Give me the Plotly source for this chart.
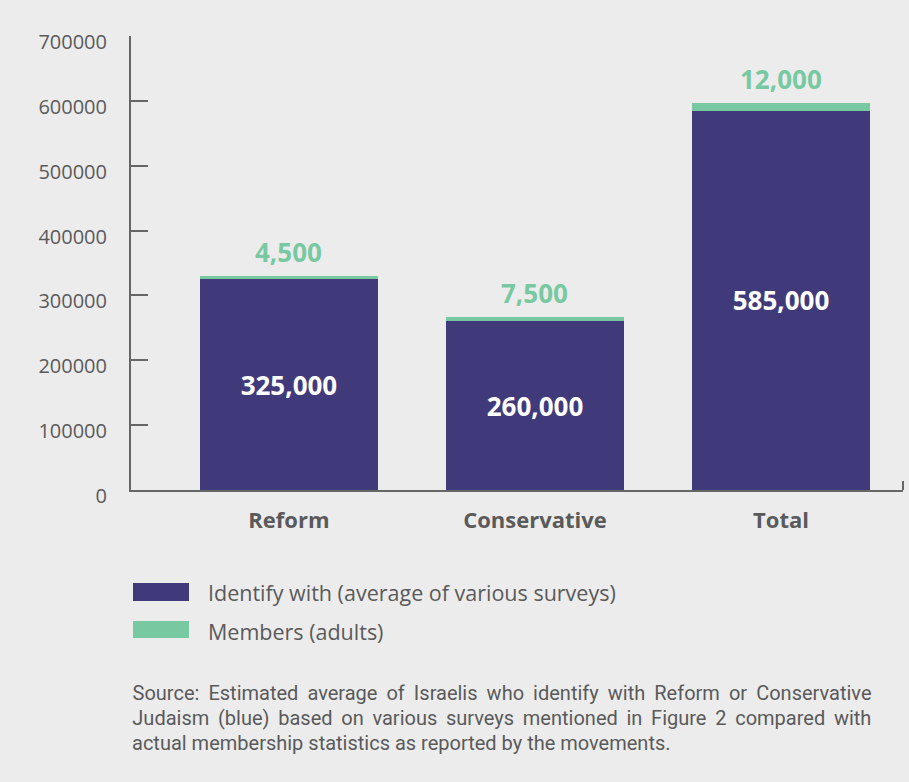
import plotly.graph_objects as go

categories = ["Reform", "Conservative", "Total"]
identify_values = [325000, 260000, 585000]
member_values = [4500, 7500, 12000]
y_tick_values = [0, 100000, 200000, 300000, 400000, 500000, 600000, 700000]
y_tick_labels = ["0", "100000", "200000", "300000", "400000", "500000", "600000", "700000"]
legend_labels = ["Identify with (average of various surveys)", "Members (adults)"]
source_lines = [
    "Source: Estimated average of Israelis who identify with Reform or Conservative",
    "Judaism (blue) based on various surveys mentioned in Figure 2 compared with",
    "actual membership statistics as reported by the movements.",
]

BG = "#ececec"
DARK = "#403a7b"
GREEN = "#78c9a2"
GRAY = "#5a5a5a"
AXIS = "#666666"

W, H = 909, 782
L, R, T, B = 131, 6, 36, 292
PW = W - L - R
PH = H - T - B

SRC_LEFT, SRC_RIGHT = 132, 871


def px_x(px):
    return (px - L) / PW


def px_y(py):
    return (H - B - py) / PH


fig = go.Figure()
fig.add_trace(go.Bar(
    x=categories, y=identify_values, name=legend_labels[0],
    marker=dict(color=DARK, line=dict(width=0)),
    text=[f"{v:,}" for v in identify_values],
    textposition="inside", insidetextanchor="middle",
    textfont=dict(family="Open Sans", size=26, color="white", weight="bold"),
    hoverinfo="skip", showlegend=False,
))
fig.add_trace(go.Bar(
    x=categories, y=member_values, name=legend_labels[1],
    marker=dict(color=GREEN, line=dict(width=0)),
    hoverinfo="skip", showlegend=False,
))

annotations = []
for c, a, b in zip(categories, identify_values, member_values):
    annotations.append(dict(
        x=c, y=a + b, xref="x", yref="y", text=f"{b:,}", showarrow=False,
        yanchor="middle", yshift=24,
        font=dict(family="Open Sans", size=26, color=GREEN, weight="bold"),
    ))

# legend
legend_rows = [(583, 601, 592.5, DARK), (621, 638, 631.5, GREEN)]
shapes = []
for (y0, y1, yc, col), lab in zip(legend_rows, legend_labels):
    shapes.append(dict(type="rect", xref="paper", yref="paper",
                       x0=px_x(133), x1=px_x(189), y0=px_y(y1), y1=px_y(y0),
                       fillcolor=col, line=dict(width=0)))
    annotations.append(dict(x=px_x(206), y=px_y(yc), xref="paper", yref="paper",
                            text=lab, showarrow=False, xanchor="left", yanchor="middle",
                            font=dict(family="Open Sans", size=21.5, color=GRAY)))

# source note: first two lines justified (centred, widened by word spacing below)
for i, line in enumerate(source_lines):
    justified = i < len(source_lines) - 1
    annotations.append(dict(
        x=px_x((SRC_LEFT + SRC_RIGHT) / 2) if justified else px_x(SRC_LEFT - 2),
        y=px_y(693 + 25 * i), xref="paper", yref="paper",
        text=line, showarrow=False,
        xanchor="center" if justified else "left", yanchor="middle",
        font=dict(family="Roboto", size=20, color=GRAY)))

# small end tick on x axis
shapes.append(dict(type="line", xref="paper", yref="paper", x0=1, x1=1,
                   y0=0, y1=px_y(481), line=dict(color=AXIS, width=2)))

fig.update_layout(
    width=W, height=H,
    margin=dict(l=L, r=R, t=T, b=B),
    paper_bgcolor=BG, plot_bgcolor=BG,
    barmode="stack", bargap=0.276,
    showlegend=False,
    annotations=annotations, shapes=shapes,
    xaxis=dict(range=[-0.642, 2.496], showline=True, linecolor=AXIS, linewidth=2,
               showgrid=False, ticks="", zeroline=False,
               tickfont=dict(family="Open Sans", size=22, color=GRAY, weight="bold"),
               ticklabelstandoff=10),
    yaxis=dict(range=[0, 700000], showline=True, linecolor=AXIS, linewidth=2,
               showgrid=False, zeroline=False,
               ticks="inside", ticklen=17, tickwidth=2, tickcolor=AXIS,
               tickvals=y_tick_values, ticktext=y_tick_labels,
               tickfont=dict(family="Open Sans", size=20, color=GRAY),
               ticklabelstandoff=18, ticklabelshift=6),
)

post = """
document.body.style.margin='0';
document.body.style.background='%s';
try {
  var gd = document.getElementById('{plot_id}');
  var target = %d;
  gd.querySelectorAll('text.annotation-text').forEach(function(t){
    var s = t.textContent;
    if (s.indexOf('Source:') === 0 || s.indexOf('Judaism (blue)') === 0) {
      var w = t.getComputedTextLength();
      var n = (s.match(/ /g) || []).length;
      if (n > 0 && target > w) { t.style.wordSpacing = ((target - w) / n) + 'px'; }
    }
  });
} catch (e) {}
""" % (BG, SRC_RIGHT - SRC_LEFT)

fig.write_html("out.html", config={"displayModeBar": False}, post_script=post)
